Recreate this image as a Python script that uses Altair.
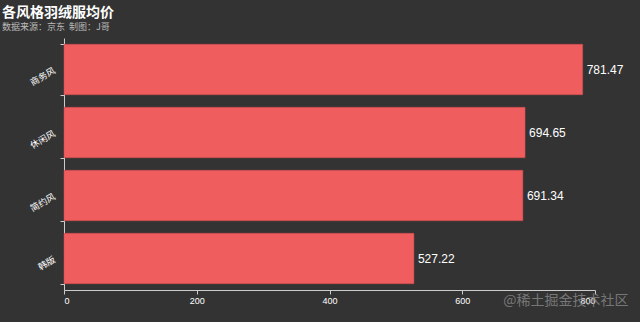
import altair as alt
import pandas as pd

categories = ["商务风", "休闲风", "简约风", "韩版"]
prices = [781.47, 694.65, 691.34, 527.22]
x_ticks = [0, 200, 400, 600, 800]

df = pd.DataFrame({"style": categories, "price": prices})

bg = "#333333"
bar_color = "#ef5d5f"

y_enc = alt.Y("style:N", sort=categories,
              scale=alt.Scale(paddingInner=0.2, paddingOuter=0.1),
              axis=alt.Axis(title=None, labelAngle=-30, labelColor="#ffffff",
                            labelFontSize=9, labelFont="Noto Sans CJK SC",
                            domainColor="#cccccc", tickColor="#cccccc",
                            tickBand="extent", tickSize=4, labelPadding=6,
                            grid=False))
x_enc = alt.X("price:Q", scale=alt.Scale(domain=[0, 800], nice=False),
              axis=alt.Axis(values=x_ticks, title="@稀土掘金技术社区",
                            titleColor="#8a8a8a", titleFontSize=14,
                            titleFontWeight="normal", titleFont="Noto Sans CJK SC",
                            titleAnchor="end", titleAlign="right", titleX=564,
                            titleY=3, titleBaseline="top", titleOpacity=0.8,
                            labelColor="#ffffff", labelFontSize=9,
                            domainColor="#cccccc", tickColor="#cccccc",
                            tickSize=4, grid=False))

bars = alt.Chart(df).mark_bar(color=bar_color, stroke="#d04a4c", strokeWidth=0.5).encode(
    x=x_enc, y=y_enc)

labels = alt.Chart(df).mark_text(align="left", baseline="middle", dx=4,
                                 fontSize=12, color="#ffffff",
                                 font="Helvetica, Arial, Liberation Sans").encode(
    x="price:Q", y=alt.Y("style:N", sort=categories),
    text=alt.Text("price:Q", format=".2f"))

chart = (bars + labels).properties(
    width=531, height=252,
    background=bg,
    padding={"left": 64, "top": 38, "right": 45, "bottom": 32},
    autosize=alt.AutoSizeParams(type="none"),
    title=alt.TitleParams(
        text="各风格羽绒服均价",
        subtitle="数据来源：京东\u00a0\u00a0制图：J哥",
        anchor="start", frame="group", dx=-62, offset=3,
        color="#ffffff", fontSize=14, fontWeight="bold",
        font="Noto Sans CJK SC",
        subtitleColor="#bbbbbb", subtitleFontSize=9,
        subtitleFont="Noto Sans CJK SC", subtitlePadding=3),
).configure_view(stroke=None)

chart.save("out.html", embed_options={"renderer": "svg", "actions": False})
